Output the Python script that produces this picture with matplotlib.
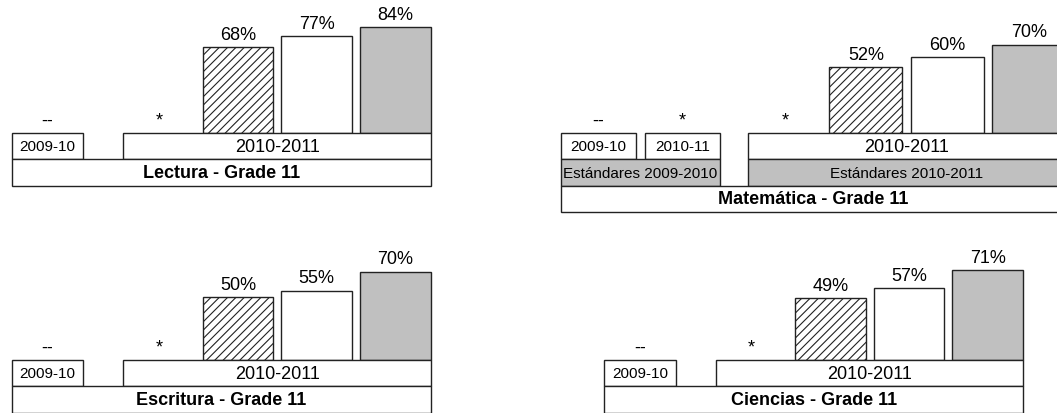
import numpy as np
import matplotlib
matplotlib.use('Agg')
import matplotlib.pyplot as plt
from matplotlib.patches import Rectangle

plt.rcParams['font.family'] = ['Liberation Sans', 'DejaVu Sans']
plt.rcParams['hatch.linewidth'] = 0.8

# ---- data ----
# slot values (nan = no bar, shown with a marker instead)
lectura_values = [np.nan, np.nan, 68, 77, 84]
lectura_missing = ['--', '*']
lectura_years = [('2009-10', 0, 0), ('2010-2011', 1, 4)]

matematica_values = [np.nan, np.nan, np.nan, 52, 60, 70]
matematica_missing = ['--', '*', '*']
matematica_years = [('2009-10', 0, 0), ('2010-11', 1, 1), ('2010-2011', 2, 5)]
matematica_standards = [('Estándares 2009-2010', 0, 1), ('Estándares 2010-2011', 2, 5)]

escritura_values = [np.nan, np.nan, 50, 55, 70]
escritura_missing = ['--', '*']
escritura_years = [('2009-10', 0, 0), ('2010-2011', 1, 4)]

ciencias_values = [np.nan, np.nan, 49, 57, 71]
ciencias_missing = ['--', '*']
ciencias_years = [('2009-10', 0, 0), ('2010-2011', 1, 4)]

titles = ['Lectura - Grade 11', 'Matemática - Grade 11',
          'Escritura - Grade 11', 'Ciencias - Grade 11']

# ---- layout ----
W, H = 1057, 414
PX_PER_PCT = 1.263
ROW = 26.4 / PX_PER_PCT
HALF = 0.455
GRAY = '#c0c0c0'
EDGE = '#222222'
bar_styles = [dict(facecolor='white', hatch='////'),
              dict(facecolor='white'),
              dict(facecolor=GRAY)]

fig = plt.figure(figsize=(W / 100, H / 100), dpi=100)


def box(ax, x_left, x_right, row, text, fill='white', size=11, bold=False):
    ax.add_patch(Rectangle((x_left, -ROW * (row + 1)), x_right - x_left, ROW,
                           facecolor=fill, edgecolor=EDGE, lw=1.0))
    ax.text((x_left + x_right) / 2, -ROW * (row + 0.5), text, ha='center', va='center',
            fontsize=size, fontweight='bold' if bold else 'normal')


def draw_panel(x0, slot, base, slots, values, missing, years, title, standards=None):
    ax = fig.add_axes([0, 0, 1, 1])
    ax.patch.set_alpha(0)
    ax.axis('off')
    ax.set_xlim(-x0 / slot, (W - x0) / slot)
    ax.set_ylim((base - H) / PX_PER_PCT, base / PX_PER_PCT)

    n_bars = np.count_nonzero(~np.isnan(values))
    for i, (x, v) in enumerate(zip(slots, values)):
        if np.isnan(v):
            ax.annotate(missing[i], (x, 0), xytext=(0, 3), textcoords='offset points',
                        ha='center', va='bottom', fontsize=13)
            continue
        style = bar_styles[i - (len(values) - n_bars)]
        ax.bar(x, v, width=0.9, edgecolor=EDGE, lw=1.0, **style)
        ax.annotate(f'{v:.0f}%', (x, v), xytext=(0, 3), textcoords='offset points',
                    ha='center', va='bottom', fontsize=13)

    for label, a, b in years:
        box(ax, slots[a] - HALF, slots[b] + HALF, 0, label, size=13 if b > a else 11)
    row = 1
    if standards:
        for label, a, b in standards:
            box(ax, slots[a] - HALF, slots[b] + HALF, 1, label, fill=GRAY, size=11)
        row = 2
    box(ax, slots[0] - HALF, slots[-1] + HALF, row, title, size=13, bold=True)


draw_panel(47.5, 78.7, 134, [0, 1.42, 2.42, 3.42, 4.42],
           lectura_values, lectura_missing, lectura_years, titles[0])
draw_panel(598.5, 81.5, 134, [0, 1.03, 2.29, 3.28, 4.28, 5.28],
           matematica_values, matematica_missing, matematica_years, titles[1],
           standards=matematica_standards)
draw_panel(47.5, 78.7, 361, [0, 1.42, 2.42, 3.42, 4.42],
           escritura_values, escritura_missing, escritura_years, titles[2])
draw_panel(639.8, 78.7, 361, [0, 1.42, 2.42, 3.42, 4.42],
           ciencias_values, ciencias_missing, ciencias_years, titles[3])

fig.savefig('out.png', dpi=100)
